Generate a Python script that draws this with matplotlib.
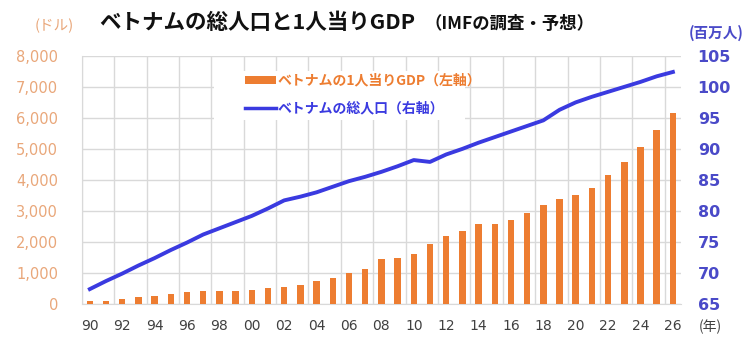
import matplotlib.pyplot as plt
import numpy as np

plt.rcParams['font.family'] = ['DejaVu Sans', 'Noto Sans CJK JP']

# データ
years = list(range(1990, 2027))
gdp_per_capita = [100, 110, 150, 210, 260, 335, 400, 430, 430, 430,
                  465, 505, 540, 600, 745, 850, 990, 1130, 1450, 1484,
                  1624, 1946, 2183, 2355, 2570, 2570, 2700, 2946, 3194, 3398,
                  3505, 3753, 4161, 4591, 5065, 5602, 6161]
population = [67.4, 68.7, 69.9, 71.2, 72.4, 73.7, 74.9, 76.2, 77.2, 78.2,
              79.2, 80.4, 81.7, 82.3, 83.0, 83.9, 84.8, 85.5, 86.3, 87.2,
              88.2, 87.9, 89.1, 90.0, 91.0, 91.9, 92.8, 93.7, 94.6, 96.3,
              97.5, 98.4, 99.2, 100.0, 100.8, 101.7, 102.4]
tick_labels = [f"{y % 100:02d}" for y in years[::2]]

orange = '#ED7D31'
light_orange = '#E9A77A'
blue = '#3A3AE0'
blue_text = '#4A4AC8'
grid_c = '#D9D9D9'
jp = ['Noto Sans CJK JP', 'DejaVu Sans']

fig = plt.figure(figsize=(7.5, 3.49), dpi=100)
ax = fig.add_axes([0.109, 0.129, 0.799, 0.711])
ax2 = ax.twinx()

x = np.arange(len(years))
ax.bar(x, gdp_per_capita, width=0.4, color=orange, zorder=3)
ax2.plot(x, population, color=blue, lw=2.8, zorder=4)

ax.set_xlim(-0.5, len(years) - 0.5)
ax.set_ylim(0, 8000)
ax2.set_ylim(65, 105)
ax.set_yticks(range(0, 8001, 1000))
ax.set_yticklabels([f"{v:,}" for v in range(0, 8001, 1000)])
ax2.set_yticks(range(65, 106, 5))

ax.set_xticks(x[::2])
ax.set_xticklabels(tick_labels)
ax.set_xticks(np.arange(-0.5, len(years) - 1, 2), minor=True)

ax.grid(axis='y', color=grid_c, lw=1, zorder=0)
ax.grid(axis='x', which='minor', color=grid_c, lw=1, zorder=0)
ax.tick_params(axis='x', which='both', length=0, colors='#404040', labelsize=10, pad=11)
ax.tick_params(axis='y', length=0, colors=light_orange, labelsize=10.5, pad=17)
ax2.tick_params(axis='y', length=0, colors=blue_text, labelsize=11.5, pad=12)
for lab in ax2.get_yticklabels():
    lab.set_fontweight('bold')

for a in (ax, ax2):
    for s in a.spines.values():
        s.set_visible(False)
ax.spines['bottom'].set_visible(True)
ax.spines['bottom'].set_color(grid_c)
ax.spines['left'].set_visible(True)
ax.spines['left'].set_color(grid_c)

# 凡例
ax.add_patch(plt.Rectangle((0.22, 0.74), 0.42, 0.2, transform=ax.transAxes,
                           facecolor='white', edgecolor='none', zorder=5))
ax.add_patch(plt.Rectangle((0.272, 0.885), 0.052, 0.035, transform=ax.transAxes,
                           facecolor=orange, edgecolor='none', zorder=6))
ax.plot([0.272, 0.324], [0.79, 0.79], transform=ax.transAxes, color=blue, lw=2.5, zorder=6)
ax.text(0.327, 0.902, 'ベトナムの1人当りGDP（左軸）', transform=ax.transAxes, color=orange,
        fontsize=10, fontweight='bold', va='center', family=jp, zorder=7)
ax.text(0.327, 0.79, 'ベトナムの総人口（右軸）', transform=ax.transAxes, color=blue,
        fontsize=10, fontweight='bold', va='center', family=jp, zorder=7)

# タイトルと単位
fig.text(0.133, 0.935, 'ベトナムの総人口と1人当りGDP', fontsize=15.5, fontweight='bold',
         family=jp, va='center', color='#111111')
fig.text(0.566, 0.932, '（IMFの調査・予想）', fontsize=12.5, fontweight='bold',
         family=jp, va='center', color='#111111')
fig.text(0.072, 0.925, '(ドル)', fontsize=10.5, family=jp, color=light_orange, ha='center', va='center')
fig.text(0.955, 0.905, '(百万人)', fontsize=10.5, fontweight='bold', family=jp, color=blue_text,
         ha='center', va='center')
fig.text(0.947, 0.062, '(年)', fontsize=10, family=jp, color='#404040', ha='center', va='center')

fig.savefig('out.png', dpi=100)
